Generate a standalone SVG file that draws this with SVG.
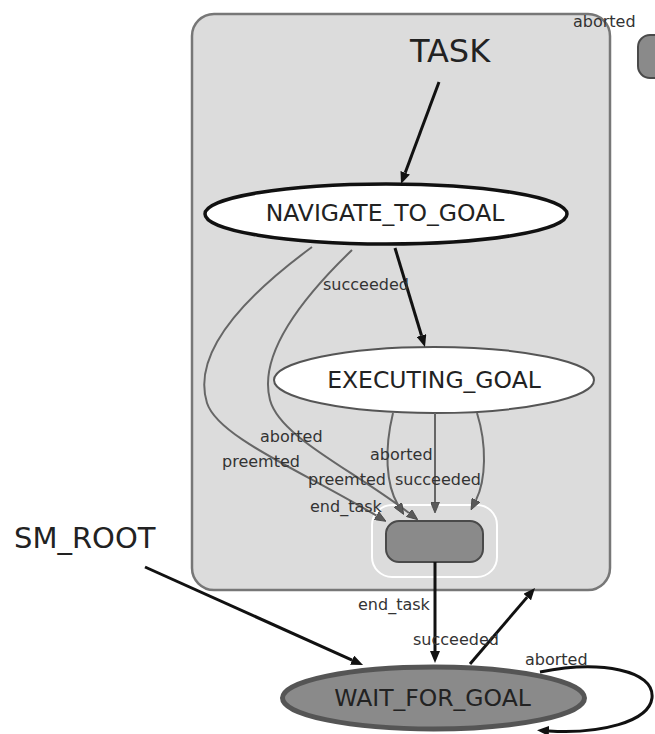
<svg xmlns="http://www.w3.org/2000/svg" width="655" height="734" viewBox="0 0 655 734">
  <defs>
    <marker id="arrowBlack" viewBox="0 0 12 10" refX="0" refY="5" markerWidth="12" markerHeight="10" markerUnits="userSpaceOnUse" orient="auto">
      <path d="M0,0 L12,5 L0,10 z" fill="#111"/>
    </marker>
    <marker id="arrowGray" viewBox="0 0 11 9" refX="0" refY="4.5" markerWidth="11" markerHeight="9" markerUnits="userSpaceOnUse" orient="auto">
      <path d="M0,0 L11,4.5 L0,9 z" fill="#5a5a5a" stroke="#444" stroke-width="0.8"/>
    </marker>
    <style>
      text { font-family: "DejaVu Sans", "Liberation Sans", sans-serif; }
      .title { font-size: 32px; fill: #222; }
      .node-label { font-size: 23.5px; fill: #222; text-anchor: middle; }
      .edge-label { font-size: 16px; fill: #333; }
      .edge-main { fill: none; stroke: #111; stroke-width: 3; marker-end: url(#arrowBlack); }
      .edge-sub { fill: none; stroke: #666; stroke-width: 2; marker-end: url(#arrowGray); }
      .outcome { fill: #8a8a8a; stroke: #4a4a4a; stroke-width: 2; }
    </style>
  </defs>

  <rect width="655" height="734" fill="#ffffff"/>

  <!-- TASK container -->
  <g id="TASK">
    <rect x="192" y="14" width="418" height="576" rx="22" fill="#dcdcdc" stroke="#777" stroke-width="2.5"/>
    <text class="title" x="450" y="62" text-anchor="middle">TASK</text>
  </g>

  <!-- outcome box of the TASK container -->
  <g id="TASK_outcomes">
    <rect x="372" y="505" width="125" height="72" rx="20" fill="none" stroke="#ffffff" stroke-width="2"/>
    <rect class="outcome" x="386" y="521" width="97" height="41" rx="13"/>
  </g>

  <!-- outer outcome node (partially off the right edge) -->
  <g id="ROOT_outcome">
    <rect class="outcome" x="638" y="35" width="40" height="43" rx="12"/>
  </g>

  <g id="NAVIGATE_TO_GOAL">
    <ellipse cx="386" cy="214" rx="181" ry="30" fill="#ffffff" stroke="#111" stroke-width="3.5"/>
    <text class="node-label" x="385" y="221">NAVIGATE_TO_GOAL</text>
  </g>

  <g id="EXECUTING_GOAL">
    <ellipse cx="434" cy="380" rx="160" ry="33" fill="#ffffff" stroke="#555" stroke-width="2"/>
    <text class="node-label" x="434" y="388">EXECUTING_GOAL</text>
  </g>

  <g id="WAIT_FOR_GOAL">
    <ellipse cx="433.5" cy="698" rx="151" ry="31" fill="#8a8a8a" stroke="#555" stroke-width="5"/>
    <text class="node-label" x="432.5" y="706">WAIT_FOR_GOAL</text>
  </g>

  <g id="SM_ROOT">
    <text x="14" y="548" font-size="29" fill="#222">SM_ROOT</text>
  </g>

  <!-- connectors -->
  <g id="edges">
    <path class="edge-main" d="M439,82 L405.2,172.8"/>
    <path class="edge-main" d="M395,248 L421.5,335.5"/>

    <path class="edge-sub" d="M312,247 C240,300 192,355 207,403 C218,437 300,470 376.5,515.7"/>
    <path class="edge-sub" d="M352,250 C300,300 258,355 270,400 C280,437 350,468 409,513"/>
    <path class="edge-sub" d="M393,413 C384,450 386,485 398,505"/>
    <path class="edge-sub" d="M435,413 L435,502"/>
    <path class="edge-sub" d="M477,413 C487,445 486,480 476,500"/>

    <path class="edge-main" d="M435,562 L435,651"/>
    <path class="edge-main" d="M470,664 L527.2,597.1"/>
    <path class="edge-main" d="M145,567 L352.1,660.1"/>
    <path class="edge-main" stroke-width="2.5" d="M540,672 C600,660 655,670 652,698 C649,722 600,734 549,731"/>

    <text class="edge-label" x="323" y="290">succeeded</text>
    <text class="edge-label" x="260" y="442">aborted</text>
    <text class="edge-label" x="222" y="467">preemted</text>
    <text class="edge-label" x="370" y="460">aborted</text>
    <text class="edge-label" x="308" y="485">preemted</text>
    <text class="edge-label" x="395" y="485">succeeded</text>
    <text class="edge-label" x="310" y="512">end_task</text>
    <text class="edge-label" x="358" y="610">end_task</text>
    <text class="edge-label" x="413" y="645">succeeded</text>
    <text class="edge-label" x="525" y="665">aborted</text>
    <text class="edge-label" x="573" y="27">aborted</text>
  </g>
</svg>
